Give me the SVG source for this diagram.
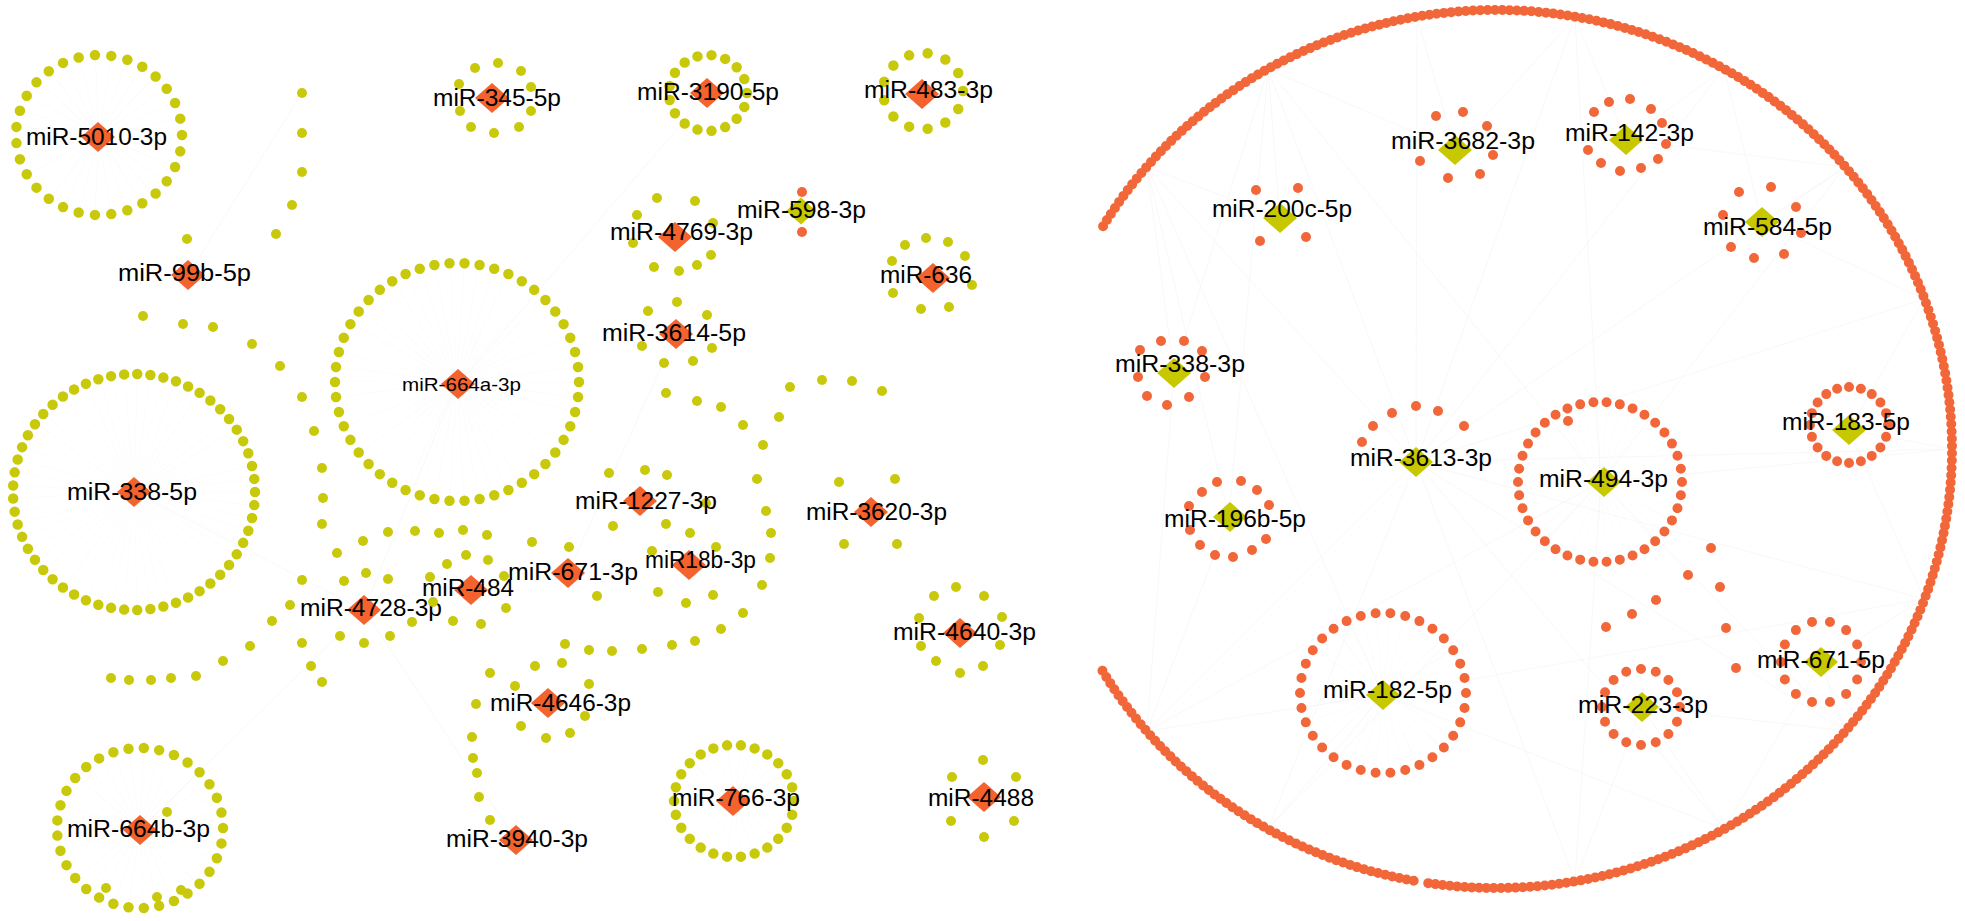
<svg xmlns="http://www.w3.org/2000/svg" xmlns:xlink="http://www.w3.org/1999/xlink" width="1965" height="921" viewBox="0 0 1965 921">
<defs>
<style>
.t{font-family:"Liberation Sans",Arial,Helvetica,sans-serif;font-size:23.5px;fill:#000}
.s{font-size:19px}
.ry{fill:none;stroke:#c9c90c;stroke-width:10.5;stroke-dasharray:0 1;stroke-linecap:round}
.ro{fill:none;stroke:#f2673a;stroke-width:10;stroke-dasharray:0 1;stroke-linecap:round}
.arc{fill:none;stroke:#f2673a;stroke-width:10;stroke-dasharray:0 7.3;stroke-linecap:round}
.y circle{fill:#c9c90c}
.o circle{fill:#f2673a}
.sp{fill:none;stroke:#e4e4e4;stroke-dasharray:0.03 0.97;opacity:0.45}
.ln{stroke:#ececec;stroke-width:0.5;fill:none;opacity:0.7}
.dO{fill:#f4622d}
.dY{fill:#c8c800}
</style>
<path id="dm" d="M0,-15 L17,0 L0,15 L-17,0Z"/>
<path id="ds" d="M0,-13.5 L15,0 L0,13.5 L-15,0Z"/>
</defs>
<rect width="1965" height="921" fill="#fff"/>

<g id="connectors">
<ellipse class="sp" cx="99" cy="135" rx="41" ry="40" stroke-width="81" pathLength="31"/>
<ellipse class="sp" cx="134" cy="492" rx="60" ry="59" stroke-width="119" pathLength="57"/>
<ellipse class="sp" cx="457" cy="382" rx="61" ry="60" stroke-width="120" pathLength="50"/>
<ellipse class="sp" cx="140" cy="828" rx="41" ry="40" stroke-width="81" pathLength="33"/>
<ellipse class="sp" cx="734" cy="801" rx="30" ry="28" stroke-width="58" pathLength="26"/>
<ellipse class="sp" cx="1601" cy="482" rx="40.5" ry="40.5" stroke-width="81" pathLength="38"/>
<ellipse class="sp" cx="1383" cy="693" rx="41.5" ry="40" stroke-width="81" pathLength="34"/>
<path class="ln" d="M1416,462L1147,167M1416,462L1268,69M1416,462L1417,17M1416,462L1575,17M1416,462L1724,69M1416,462L1845,167M1416,462L1924,299M1416,462L1952,449M1416,462L1924,599M1416,462L1845,731M1416,462L1724,829M1416,462L1575,881M1416,462L1268,829M1416,462L1147,731"/>
<path class="ln" d="M1601,482L1268,69M1601,482L1575,17M1601,482L1845,167M1601,482L1952,449M1601,482L1845,731M1601,482L1575,881M1601,482L1268,829M1601,482L1147,731"/>
<path class="ln" d="M1383,695L1147,731M1383,695L1268,829M1383,695L1147,167M1383,695L1724,829M1383,695L1924,599M1229,517L1147,167M1229,517L1147,731M1229,517L1268,69M1174,373L1147,167M1174,373L1268,69M1174,373L1147,731"/>
<path class="ln" d="M1455,150L1268,69M1455,150L1417,17M1455,150L1575,17M1626,140L1575,17M1626,140L1724,69M1626,140L1845,167M1762,222L1845,167M1762,222L1924,299M1762,222L1724,69M1280,218L1147,167M1280,218L1268,69"/>
<path class="ln" d="M1849,430L1924,299M1849,430L1952,449M1849,430L1924,599M1821,662L1924,599M1821,662L1845,731M1821,662L1724,829M1642,707L1724,829M1642,707L1575,881M1642,707L1845,731"/>
<path class="ln" d="M140,830L364,610M134,492L364,610M457,382L364,610M568,573L676,334M188,275L302,93M460,382L708,93M364,610L516,840"/>
</g>

<g id="target-arc" class="o">
<path class="arc" d="M1103.1,226.2 A456,439 0 1 1 1428,883.1"/>
<path class="arc" d="M1413.7,880.8 A456,439 0 0 1 1100.3,667.2"/>
</g>

<g id="miR-5010-3p">
<ellipse class="ry" cx="99" cy="135" rx="83" ry="80" pathLength="31"/>
<use href="#dm" class="dO" x="98" y="137"/>
<text class="t" x="26" y="145" textLength="141" lengthAdjust="spacingAndGlyphs">miR-5010-3p</text>
</g>

<g id="miR-99b-5p" class="y">
<circle cx="302" cy="93" r="5"/><circle cx="302" cy="133" r="5"/><circle cx="302" cy="172" r="5"/><circle cx="292" cy="205" r="5"/><circle cx="276" cy="234" r="5"/>
<circle cx="187" cy="239" r="5"/>
<circle cx="143" cy="316" r="5"/><circle cx="183" cy="324" r="5"/><circle cx="213" cy="327" r="5"/><circle cx="252" cy="344" r="5"/><circle cx="280" cy="366" r="5"/><circle cx="302" cy="397" r="5"/><circle cx="314" cy="431" r="5"/><circle cx="322" cy="468" r="5"/><circle cx="323" cy="498" r="5"/><circle cx="322" cy="524" r="5"/>
<use href="#dm" class="dO" x="188" y="275"/>
<text class="t" x="118" y="281" textLength="133" lengthAdjust="spacingAndGlyphs">miR-99b-5p</text>
</g>

<g id="miR-345-5p" class="y">
<circle cx="475" cy="68" r="5"/><circle cx="498" cy="63" r="5"/><circle cx="521" cy="71" r="5"/><circle cx="531" cy="87" r="5"/><circle cx="531" cy="111" r="5"/><circle cx="519" cy="127" r="5"/><circle cx="494" cy="133" r="5"/><circle cx="471" cy="127" r="5"/><circle cx="460" cy="111" r="5"/><circle cx="459" cy="84" r="5"/>
<use href="#dm" class="dO" x="492" y="98"/>
<text class="t" x="433" y="106" textLength="128" lengthAdjust="spacingAndGlyphs">miR-345-5p</text>
</g>

<g id="miR-3190-5p">
<ellipse class="ry" cx="708" cy="93" rx="39" ry="38" pathLength="17"/>
<use href="#dm" class="dO" x="707" y="93"/>
<text class="t" x="637" y="100" textLength="142" lengthAdjust="spacingAndGlyphs">miR-3190-5p</text>
</g>

<g id="miR-483-3p">
<ellipse class="ry" cx="923" cy="91" rx="40" ry="38" pathLength="13"/>
<use href="#dm" class="dO" x="922" y="94"/>
<text class="t" x="864" y="98" textLength="129" lengthAdjust="spacingAndGlyphs">miR-483-3p</text>
</g>

<g id="miR-664a-3p">
<ellipse class="ry" cx="457" cy="382" rx="122" ry="119" pathLength="50"/>
<use href="#dm" class="dO" x="458" y="384"/>
<text class="t s" x="402" y="391" textLength="119" lengthAdjust="spacingAndGlyphs">miR-664a-3p</text>
</g>

<g id="miR-338-5p">
<ellipse class="ry" cx="134" cy="492" rx="121" ry="118" pathLength="57"/>
<use href="#dm" class="dO" x="134" y="492"/>
<text class="t" x="67" y="500" textLength="130" lengthAdjust="spacingAndGlyphs">miR-338-5p</text>
</g>

<g id="miR-664b-3p" class="y">
<ellipse class="ry" cx="140" cy="828" rx="83" ry="80" pathLength="33"/>
<circle cx="167" cy="812" r="5"/><circle cx="106" cy="888" r="5"/><circle cx="157" cy="897" r="5"/><circle cx="181" cy="890" r="5"/>
<use href="#dm" class="dO" x="140" y="830"/>
<text class="t" x="67" y="837" textLength="143" lengthAdjust="spacingAndGlyphs">miR-664b-3p</text>
</g>

<g id="miR-4728-3p" class="y">
<circle cx="337" cy="553" r="5"/><circle cx="363" cy="541" r="5"/><circle cx="388" cy="532" r="5"/><circle cx="415" cy="531" r="5"/><circle cx="439" cy="533" r="5"/><circle cx="463" cy="530" r="5"/><circle cx="487" cy="535" r="5"/>
<circle cx="302" cy="580" r="5"/><circle cx="344" cy="581" r="5"/><circle cx="366" cy="573" r="5"/><circle cx="388" cy="579" r="5"/>
<circle cx="290" cy="605" r="5"/><circle cx="272" cy="621" r="5"/><circle cx="250" cy="646" r="5"/><circle cx="223" cy="661" r="5"/><circle cx="196" cy="676" r="5"/><circle cx="171" cy="678" r="5"/><circle cx="151" cy="680" r="5"/><circle cx="129" cy="680" r="5"/><circle cx="111" cy="678" r="5"/>
<circle cx="412" cy="622" r="5"/><circle cx="340" cy="636" r="5"/><circle cx="364" cy="643" r="5"/><circle cx="390" cy="636" r="5"/><circle cx="302" cy="643" r="5"/><circle cx="311" cy="666" r="5"/><circle cx="322" cy="682" r="5"/>
<use href="#dm" class="dO" x="364" y="610"/>
<text class="t" x="300" y="616" textLength="142" lengthAdjust="spacingAndGlyphs">miR-4728-3p</text>
</g>

<g id="miR-484" class="y">
<circle cx="466" cy="555" r="5"/><circle cx="447" cy="564" r="5"/><circle cx="488" cy="560" r="5"/><circle cx="430" cy="577" r="5"/><circle cx="504" cy="576" r="5"/><circle cx="433" cy="602" r="5"/><circle cx="506" cy="608" r="5"/><circle cx="453" cy="621" r="5"/><circle cx="481" cy="624" r="5"/>
<use href="#dm" class="dO" x="471" y="590"/>
<text class="t" x="422" y="596" textLength="92" lengthAdjust="spacingAndGlyphs">miR-484</text>
</g>

<g id="miR-671-3p" class="y">
<circle cx="532" cy="542" r="5"/><circle cx="569" cy="547" r="5"/><circle cx="597" cy="596" r="5"/>
<use href="#dm" class="dO" x="568" y="573"/>
<text class="t" x="508" y="580" textLength="130" lengthAdjust="spacingAndGlyphs">miR-671-3p</text>
</g>

<g id="miR-1227-3p" class="y">
<circle cx="609" cy="473" r="5"/><circle cx="645" cy="470" r="5"/><circle cx="667" cy="475" r="5"/><circle cx="706" cy="503" r="5"/><circle cx="613" cy="526" r="5"/><circle cx="666" cy="524" r="5"/><circle cx="690" cy="533" r="5"/>
<use href="#dm" class="dO" x="640" y="501"/>
<text class="t" x="575" y="509" textLength="142" lengthAdjust="spacingAndGlyphs">miR-1227-3p</text>
</g>

<g id="miR18b-3p" class="y">
<circle cx="652" cy="551" r="5"/><circle cx="716" cy="547" r="5"/><circle cx="658" cy="592" r="5"/><circle cx="686" cy="603" r="5"/><circle cx="713" cy="595" r="5"/>
<circle cx="565" cy="644" r="5"/><circle cx="589" cy="650" r="5"/><circle cx="612" cy="651" r="5"/><circle cx="642" cy="649" r="5"/><circle cx="672" cy="645" r="5"/><circle cx="695" cy="641" r="5"/><circle cx="721" cy="629" r="5"/><circle cx="743" cy="613" r="5"/><circle cx="762" cy="585" r="5"/><circle cx="770" cy="558" r="5"/><circle cx="771" cy="533" r="5"/><circle cx="766" cy="511" r="5"/><circle cx="757" cy="479" r="5"/><circle cx="763" cy="445" r="5"/>
<use href="#dm" class="dO" x="689" y="565"/>
<text class="t" x="645" y="568" textLength="111" lengthAdjust="spacingAndGlyphs">miR18b-3p</text>
</g>

<g id="miR-4646-3p" class="y">
<circle cx="535" cy="666" r="5"/><circle cx="562" cy="663" r="5"/><circle cx="490" cy="673" r="5"/><circle cx="515" cy="686" r="5"/><circle cx="589" cy="684" r="5"/>
<circle cx="476" cy="704" r="5"/><circle cx="585" cy="716" r="5"/><circle cx="521" cy="726" r="5"/><circle cx="546" cy="738" r="5"/><circle cx="570" cy="733" r="5"/>
<use href="#dm" class="dO" x="548" y="703"/>
<text class="t" x="490" y="711" textLength="141" lengthAdjust="spacingAndGlyphs">miR-4646-3p</text>
</g>

<g id="miR-3940-3p" class="y">
<circle cx="472" cy="737" r="5"/><circle cx="473" cy="758" r="5"/><circle cx="477" cy="773" r="5"/><circle cx="479" cy="797" r="5"/><circle cx="490" cy="820" r="5"/>
<use href="#dm" class="dO" x="516" y="840"/>
<text class="t" x="446" y="847" textLength="142" lengthAdjust="spacingAndGlyphs">miR-3940-3p</text>
</g>

<g id="miR-4769-3p" class="y">
<circle cx="657" cy="198" r="5"/><circle cx="695" cy="201" r="5"/><circle cx="637" cy="215" r="5"/><circle cx="713" cy="223" r="5"/><circle cx="633" cy="243" r="5"/><circle cx="711" cy="255" r="5"/><circle cx="654" cy="267" r="5"/><circle cx="679" cy="271" r="5"/><circle cx="697" cy="265" r="5"/>
<use href="#dm" class="dO" x="675" y="237"/>
<text class="t" x="610" y="240" textLength="143" lengthAdjust="spacingAndGlyphs">miR-4769-3p</text>
</g>

<g id="miR-598-3p" class="o">
<circle cx="802" cy="192" r="5"/><circle cx="802" cy="232" r="5"/>
<use href="#ds" class="dY" x="801" y="211"/>
<text class="t" x="737" y="218" textLength="129" lengthAdjust="spacingAndGlyphs">miR-598-3p</text>
</g>

<g id="miR-636" class="y">
<circle cx="926" cy="238" r="5"/><circle cx="948" cy="242" r="5"/><circle cx="965" cy="256" r="5"/><circle cx="972" cy="285" r="5"/><circle cx="949" cy="307" r="5"/><circle cx="921" cy="309" r="5"/><circle cx="893" cy="293" r="5"/><circle cx="892" cy="261" r="5"/><circle cx="905" cy="245" r="5"/>
<use href="#dm" class="dO" x="933" y="278"/>
<text class="t" x="880" y="283" textLength="92" lengthAdjust="spacingAndGlyphs">miR-636</text>
</g>

<g id="miR-3614-5p" class="y">
<circle cx="677" cy="302" r="5"/><circle cx="648" cy="311" r="5"/><circle cx="707" cy="315" r="5"/><circle cx="642" cy="346" r="5"/><circle cx="712" cy="348" r="5"/><circle cx="664" cy="363" r="5"/><circle cx="693" cy="361" r="5"/>
<circle cx="666" cy="393" r="5"/><circle cx="697" cy="401" r="5"/><circle cx="721" cy="407" r="5"/><circle cx="743" cy="425" r="5"/><circle cx="779" cy="417" r="5"/><circle cx="790" cy="387" r="5"/><circle cx="822" cy="380" r="5"/><circle cx="852" cy="381" r="5"/><circle cx="882" cy="391" r="5"/>
<use href="#dm" class="dO" x="676" y="334"/>
<text class="t" x="602" y="341" textLength="144" lengthAdjust="spacingAndGlyphs">miR-3614-5p</text>
</g>

<g id="miR-3620-3p" class="y">
<circle cx="839" cy="482" r="5"/><circle cx="895" cy="479" r="5"/><circle cx="844" cy="544" r="5"/><circle cx="897" cy="544" r="5"/>
<use href="#dm" class="dO" x="871" y="512"/>
<text class="t" x="806" y="520" textLength="141" lengthAdjust="spacingAndGlyphs">miR-3620-3p</text>
</g>

<g id="miR-4640-3p" class="y">
<circle cx="956" cy="587" r="5"/><circle cx="984" cy="596" r="5"/><circle cx="1002" cy="617" r="5"/><circle cx="1000" cy="645" r="5"/><circle cx="983" cy="666" r="5"/><circle cx="960" cy="673" r="5"/><circle cx="936" cy="661" r="5"/><circle cx="921" cy="646" r="5"/><circle cx="919" cy="618" r="5"/><circle cx="934" cy="596" r="5"/>
<use href="#dm" class="dO" x="960" y="633"/>
<text class="t" x="893" y="640" textLength="143" lengthAdjust="spacingAndGlyphs">miR-4640-3p</text>
</g>

<g id="miR-766-3p">
<ellipse class="ry" cx="734" cy="801" rx="60" ry="56" pathLength="26"/>
<use href="#dm" class="dO" x="733" y="801"/>
<text class="t" x="672" y="806" textLength="128" lengthAdjust="spacingAndGlyphs">miR-766-3p</text>
</g>

<g id="miR-4488" class="y">
<circle cx="983" cy="760" r="5"/><circle cx="1016" cy="777" r="5"/><circle cx="1014" cy="821" r="5"/><circle cx="984" cy="837" r="5"/><circle cx="951" cy="821" r="5"/><circle cx="952" cy="777" r="5"/>
<use href="#dm" class="dO" x="984" y="797"/>
<text class="t" x="928" y="806" textLength="106" lengthAdjust="spacingAndGlyphs">miR-4488</text>
</g>

<g id="miR-3682-3p" class="o">
<circle cx="1436" cy="116" r="5"/><circle cx="1463" cy="112" r="5"/><circle cx="1487" cy="126" r="5"/><circle cx="1493" cy="155" r="5"/><circle cx="1480" cy="174" r="5"/><circle cx="1448" cy="178" r="5"/><circle cx="1420" cy="161" r="5"/>
<use href="#dm" class="dY" x="1455" y="150"/>
<text class="t" x="1391" y="149" textLength="144" lengthAdjust="spacingAndGlyphs">miR-3682-3p</text>
</g>

<g id="miR-142-3p" class="o">
<circle cx="1609" cy="102" r="5"/><circle cx="1630" cy="99" r="5"/><circle cx="1651" cy="109" r="5"/><circle cx="1662" cy="123" r="5"/><circle cx="1666" cy="144" r="5"/><circle cx="1658" cy="159" r="5"/><circle cx="1641" cy="168" r="5"/><circle cx="1620" cy="171" r="5"/><circle cx="1601" cy="163" r="5"/><circle cx="1588" cy="150" r="5"/><circle cx="1594" cy="112" r="5"/>
<use href="#dm" class="dY" x="1626" y="140"/>
<text class="t" x="1565" y="141" textLength="129" lengthAdjust="spacingAndGlyphs">miR-142-3p</text>
</g>

<g id="miR-200c-5p" class="o">
<circle cx="1256" cy="190" r="5"/><circle cx="1298" cy="188" r="5"/><circle cx="1260" cy="241" r="5"/><circle cx="1306" cy="237" r="5"/>
<use href="#dm" class="dY" x="1280" y="218"/>
<text class="t" x="1212" y="217" textLength="140" lengthAdjust="spacingAndGlyphs">miR-200c-5p</text>
</g>

<g id="miR-584-5p" class="o">
<circle cx="1739" cy="192" r="5"/><circle cx="1771" cy="187" r="5"/><circle cx="1796" cy="207" r="5"/><circle cx="1801" cy="233" r="5"/><circle cx="1784" cy="254" r="5"/><circle cx="1754" cy="258" r="5"/><circle cx="1731" cy="247" r="5"/><circle cx="1723" cy="215" r="5"/>
<use href="#dm" class="dY" x="1762" y="222"/>
<text class="t" x="1703" y="235" textLength="129" lengthAdjust="spacingAndGlyphs">miR-584-5p</text>
</g>

<g id="miR-338-3p" class="o">
<circle cx="1161" cy="341" r="5"/><circle cx="1184" cy="341" r="5"/><circle cx="1202" cy="351" r="5"/><circle cx="1205" cy="377" r="5"/><circle cx="1189" cy="397" r="5"/><circle cx="1167" cy="405" r="5"/><circle cx="1147" cy="396" r="5"/><circle cx="1138" cy="377" r="5"/><circle cx="1140" cy="350" r="5"/>
<use href="#dm" class="dY" x="1174" y="373"/>
<text class="t" x="1115" y="372" textLength="130" lengthAdjust="spacingAndGlyphs">miR-338-3p</text>
</g>

<g id="miR-183-5p">
<ellipse class="ro" cx="1849" cy="425" rx="39" ry="38" pathLength="20"/>
<use href="#dm" class="dY" x="1849" y="430"/>
<text class="t" x="1782" y="430" textLength="128" lengthAdjust="spacingAndGlyphs">miR-183-5p</text>
</g>

<g id="miR-3613-3p" class="o">
<circle cx="1362" cy="442" r="5"/><circle cx="1373" cy="426" r="5"/><circle cx="1392" cy="413" r="5"/><circle cx="1416" cy="406" r="5"/><circle cx="1438" cy="411" r="5"/><circle cx="1464" cy="426" r="5"/>
<use href="#dm" class="dY" x="1416" y="462"/>
<text class="t" x="1350" y="466" textLength="142" lengthAdjust="spacingAndGlyphs">miR-3613-3p</text>
</g>

<g id="miR-494-3p" class="o">
<ellipse class="ro" cx="1600" cy="482" rx="82" ry="80" pathLength="38"/>
<circle cx="1568" cy="421" r="5"/>
<circle cx="1711" cy="548" r="5"/><circle cx="1688" cy="575" r="5"/><circle cx="1720" cy="587" r="5"/><circle cx="1656" cy="600" r="5"/><circle cx="1632" cy="614" r="5"/><circle cx="1606" cy="627" r="5"/><circle cx="1726" cy="628" r="5"/><circle cx="1736" cy="668" r="5"/>
<use href="#dm" class="dY" x="1604" y="482"/>
<text class="t" x="1539" y="487" textLength="129" lengthAdjust="spacingAndGlyphs">miR-494-3p</text>
</g>

<g id="miR-196b-5p" class="o">
<circle cx="1217" cy="482" r="5"/><circle cx="1241" cy="481" r="5"/><circle cx="1257" cy="490" r="5"/><circle cx="1269" cy="505" r="5"/><circle cx="1266" cy="539" r="5"/><circle cx="1252" cy="550" r="5"/><circle cx="1233" cy="557" r="5"/><circle cx="1215" cy="555" r="5"/><circle cx="1200" cy="545" r="5"/><circle cx="1190" cy="530" r="5"/><circle cx="1189" cy="506" r="5"/><circle cx="1202" cy="492" r="5"/>
<use href="#dm" class="dY" x="1230" y="517"/>
<text class="t" x="1164" y="527" textLength="142" lengthAdjust="spacingAndGlyphs">miR-196b-5p</text>
</g>

<g id="miR-182-5p">
<ellipse class="ro" cx="1383" cy="693" rx="83" ry="80" pathLength="34"/>
<use href="#dm" class="dY" x="1383" y="695"/>
<text class="t" x="1323" y="698" textLength="129" lengthAdjust="spacingAndGlyphs">miR-182-5p</text>
</g>

<g id="miR-223-3p">
<ellipse class="ro" cx="1641" cy="707" rx="39" ry="38" pathLength="16"/>
<use href="#dm" class="dY" x="1642" y="707"/>
<text class="t" x="1578" y="713" textLength="130" lengthAdjust="spacingAndGlyphs">miR-223-3p</text>
</g>

<g id="miR-671-5p">
<ellipse class="ro" cx="1821" cy="662" rx="40" ry="41" pathLength="14"/>
<use href="#dm" class="dY" x="1821" y="662"/>
<text class="t" x="1757" y="668" textLength="128" lengthAdjust="spacingAndGlyphs">miR-671-5p</text>
</g>
</svg>
